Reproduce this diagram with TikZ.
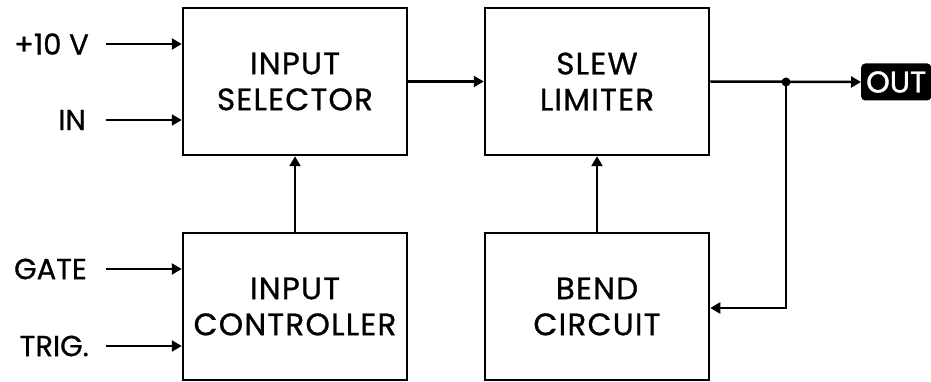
\documentclass[tikz,border=0pt]{standalone}
\usepackage{fontspec}
\setmainfont{Poppins}[FakeBold=0.8]
\newfontfamily\boxfont{Poppins}[FakeBold=0.8,LetterSpace=4]
\newfontfamily\outfont{Poppins}[FakeBold=1.2]
\usetikzlibrary{arrows.meta}
\begin{document}
\begin{tikzpicture}[x=1pt,y=-1pt,
  blk/.style={draw,line width=2.5pt,minimum width=224pt,minimum height=147pt,inner sep=0pt,align=center,font=\fontsize{31}{36}\selectfont\boxfont},
  lab/.style={anchor=east,inner sep=0pt,font=\fontsize{29}{30}\selectfont},
  arr/.style={line width=2.5pt,-{Triangle[length=10pt,width=11pt]}},
  wire/.style={line width=2.5pt}]
\useasboundingbox (0,0) rectangle (931,382);
\node[blk] (b1) at (295,81.5) {INPUT\\SELECTOR};
\node[blk] (b2) at (597,81.5) {SLEW\\LIMITER};
\node[blk] (b3) at (295,306.5) {INPUT\\CONTROLLER};
\node[blk] (b4) at (597,306.5) {BEND\\CIRCUIT};
\node[lab] (l1) at (89,44) {+10 V};
\node[lab] (l2) at (86,120) {IN};
\node[lab] (l3) at (87,269) {GATE};
\node[lab] (l4) at (89,346) {TRIG.};
\coordinate (s1) at (106,44);
\coordinate (s2) at (106,120);
\coordinate (s3) at (106,269);
\coordinate (s4) at (106,346);
\draw[arr] (s1) -- (s1 -| b1.west);
\draw[arr] (s2) -- (s2 -| b1.west);
\draw[arr] (s3) -- (s3 -| b3.west);
\draw[arr] (s4) -- (s4 -| b3.west);
\draw[arr] (b1.east) -- (b2.west);
\draw[arr] (b3.north) -- (b1.south);
\draw[arr] (b4.north) -- (b2.south);
\node[fill=black,text=white,rounded corners=4pt,anchor=west,minimum height=37pt,inner xsep=5pt,font=\fontsize{30}{30}\selectfont\outfont] (out) at (861,82) {OUT};
\coordinate (j) at (786,82);
\coordinate (k) at (786,308);
\draw[arr] (b2.east) -- (out.west);
\draw[arr] (j) -- (k) -- (k -| b4.east);
\fill (j) circle (4.5pt);
\end{tikzpicture}
\end{document}
